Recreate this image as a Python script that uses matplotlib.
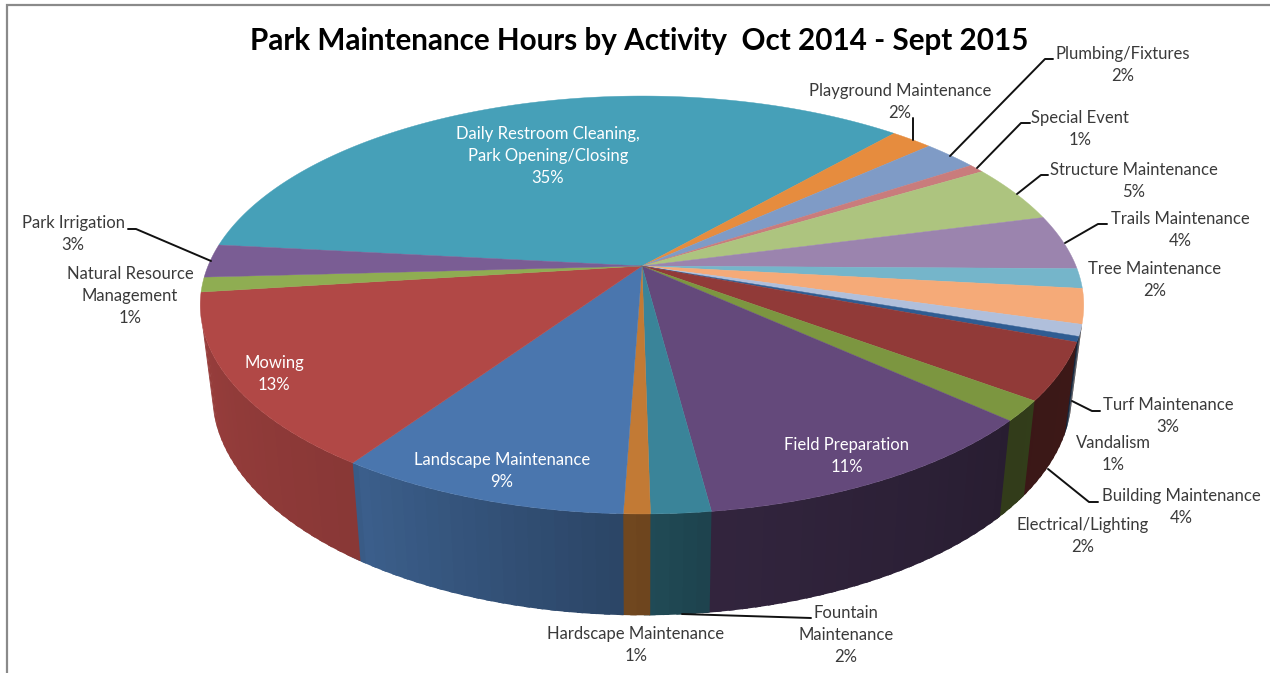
import numpy as np
import matplotlib
matplotlib.use("Agg")
import matplotlib.pyplot as plt
from matplotlib.collections import PolyCollection
from matplotlib.colors import to_rgb

title = "Park Maintenance Hours by Activity  Oct 2014 - Sept 2015"
activities = ["Daily Restroom Cleaning,\nPark Opening/Closing", "Playground Maintenance", "Plumbing/Fixtures",
              "Special Event", "Structure Maintenance", "Trails Maintenance", "Tree Maintenance",
              "Turf Maintenance", "Vandalism", "", "Building Maintenance", "Electrical/Lighting",
              "Field Preparation", "Fountain\nMaintenance", "Hardscape Maintenance", "Landscape Maintenance",
              "Mowing", "Natural Resource\nManagement", "Park Irrigation"]
percent = [34.8, 1.83, 2.39, 0.69, 4.52, 4.25, 1.53, 2.69, 0.89, 0.42, 4.39, 1.58,
           11.2, 1.83, 0.81, 8.97, 13.45, 1.14, 2.56]
colors = ["#46a0b8", "#e68c3e", "#7f9bc6", "#c97c7c", "#adc47f", "#9b84ae", "#75b5ca",
          "#f5aa78", "#b0bfdb", "#2f5c92", "#913a38", "#7c9640",
          "#64497b", "#3a8499", "#c27a35", "#4a76ae", "#b14846", "#8fad52", "#7a5d94"]
label_xy = [(548, 156), (900, 102), (1123, 65), (1080, 129), (1134, 181), (1180, 230), (1155, 280),
            (1168, 416), (1113, 454), None, (1181, 507), (1083, 536),
            (847, 456), (846, 635), (636, 645), (502, 471), (274, 374), (130, 296), (73, 234)]
white_labels = {"Daily Restroom Cleaning,\nPark Opening/Closing", "Landscape Maintenance", "Field Preparation", "Mowing"}
leaders = [[(913, 118), (913, 140)],
           [(1053, 59), (1045, 59), (950, 156)],
           [(1030, 123), (1021, 123), (977, 168)],
           [(1048, 175), (1041, 175), (1017, 194)],
           [(1107, 224), (1098, 224), (1065, 243)],
           [(1100, 411), (1092, 411), (1072, 401)],
           [(1098, 502), (1089, 502), (1048, 469)],
           [(811, 618), (682, 614)],
           [(128, 229), (136, 229), (211, 261)]]

# perspective geometry of the pie
CX, CY, A, B, K = 642, 266, 434, 201.7, 0.1866
START = 173.9
shade_t = [170, 185, 236, 237, 270, 278, 318, 345, 380]
shade_v = [.88, .88, .77, .80, .57, .50, .40, .42, .42]
SIDE_FROM, SIDE_TO = 196, 345


def rim(theta):
    t = np.radians(theta)
    d = 1 + K * np.sin(t)
    return A * np.cos(t) / d, -B * np.sin(t) / d


plt.rcParams["font.family"] = ["Lato", "DejaVu Sans"]
fig = plt.figure(figsize=(12.7, 6.73), dpi=100, facecolor="white")
ax = fig.add_axes([0, 0, 1, 1])
ax.set_xlim(0, 1270)
ax.set_ylim(673, 0)
ax.axis("off")

ax.plot([6.5, 6.5, 1270], [673, 4.5, 4.5], color="#8a8a8a", lw=1.6, solid_joinstyle="miter")

vals = np.array(percent)
spans = vals / vals.sum() * 360
ends = START - np.cumsum(spans)
starts = ends + spans

# side wall: facets run clockwise (right to left along the front) and each
# one overlaps the next, which is drawn over it, so no seams show
quads, qcols, keys = [], [], []
for s, e, c in zip(starts, ends, colors):
    th = np.append(np.arange(s, e - 0.75, -1.5), e)
    base = np.array(to_rgb(c))
    for t0, t1 in zip(th[:-1], th[1:]):
        m = ((t0 + t1) / 2 - 160) % 360 + 160
        if not (SIDE_FROM < m < SIDE_TO):
            continue
        x0, y0 = rim(t0)
        x1, y1 = rim(t1 - 0.7)
        quads.append([(CX + x0, CY + y0), (CX + x1, CY + y1),
                      (CX + .973 * x1, CY + 1.058 * y1 + 87), (CX + .973 * x0, CY + 1.058 * y0 + 87)])
        qcols.append(base * np.interp(m, shade_t, shade_v))
        keys.append(-m)
order = np.argsort(keys)
ax.add_collection(PolyCollection([quads[i] for i in order], facecolors=[qcols[i] for i in order],
                                 edgecolors="none", linewidths=0, zorder=2))

# top face
for s, e, c in zip(starts, ends, colors):
    th = np.linspace(s, e, max(3, int((s - e) / 0.5)))
    x, y = rim(th)
    xs = np.concatenate([[CX], CX + x])
    ys = np.concatenate([[CY], CY + y])
    ax.fill(xs, ys, facecolor=c, edgecolor=c, lw=0.3, zorder=3)

for pts in leaders:
    ax.plot(*zip(*pts), color="#111111", lw=1.4, zorder=4, solid_capstyle="round")

for name, v, xy in zip(activities, percent, label_xy):
    if xy is None:
        continue
    col = "white" if name in white_labels else "#3a3a3a"
    ax.text(xy[0], xy[1], f"{name}\n{round(v)}%", ha="center", va="center", ma="center",
            fontsize=12, color=col, linespacing=1.46, zorder=5)

ax.text(639, 41, title, ha="center", va="center", fontsize=21.3, fontweight="bold", color="black", zorder=5)

fig.savefig("out.png", dpi=100, facecolor="white")
